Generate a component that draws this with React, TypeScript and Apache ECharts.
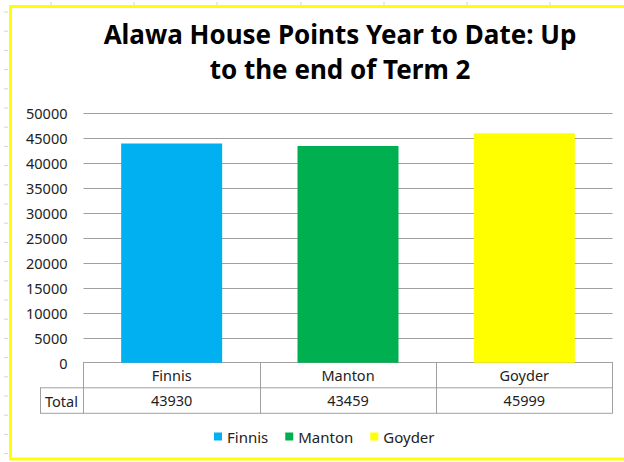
import React, { useEffect, useRef } from "react";
import * as echarts from "echarts";

const categories = ["Finnis", "Manton", "Goyder"];
const totals = [43930, 43459, 45999];
const barColors = ["#00b0f0", "#00b050", "#ffff00"];
const yTicks = { min: 0, max: 50000, interval: 5000 };
const rowLabel = "Total";
const titleLines = ["Alawa House Points Year to Date: Up", "to the end of Term 2"];

const FONT = "'Noto Sans', sans-serif";
const LINE = "#a0a0a0";

export default function App() {
  const ref = useRef<HTMLDivElement>(null);
  useEffect(() => {
    if (!ref.current) return;
    const chart = echarts.init(ref.current, null, { renderer: "svg" });
    const series = categories.map((name, i) => ({
      name,
      type: "bar",
      stack: "total",
      barWidth: 101,
      itemStyle: { color: barColors[i] },
      data: categories.map((_, j) => (j === i ? totals[i] : null)),
    }));
    const leftMarks = [];
    for (let k = 0; k < 24; k++) {
      const y = 12 + k * 19.2;
      leftMarks.push({ type: "line", shape: { x1: 4, y1: y, x2: 8, y2: y }, style: { stroke: "#d4d4d4", lineWidth: 1 } });
    }
    const topMarks = [51, 134, 217, 301, 384, 467, 550].map((x) => ({
      type: "line",
      shape: { x1: x, y1: 2, x2: x, y2: 5 },
      style: { stroke: "#d4d4d4", lineWidth: 1 },
    }));
    const titleEls = titleLines.map((t, i) => ({
      type: "text",
      x: 340,
      y: 34 + i * 35,
      style: {
        text: t,
        fontFamily: FONT,
        fontWeight: "bold",
        fontSize: 26,
        fill: "#000",
        align: "center",
        verticalAlign: "middle",
      },
    }));
    chart.setOption({
      animation: false,
      backgroundColor: "#ffffff",
      textStyle: { fontFamily: FONT },
      legend: {
        data: categories,
        left: 214,
        top: 429,
        padding: 0,
        itemWidth: 8,
        itemHeight: 8,
        itemGap: 17,
        icon: "rect",
        textStyle: { fontFamily: FONT, fontSize: 15, color: "#222" },
      },
      grid: { left: 83.5, right: 11.5, top: 113.3, bottom: 99.3 },
      xAxis: [
        {
          type: "category",
          data: categories,
          position: "bottom",
          axisLine: { show: true, lineStyle: { color: LINE, width: 1 } },
          axisTick: { show: true, length: 50.6, interval: 0, lineStyle: { color: LINE, width: 1 } },
          axisLabel: { margin: 0, lineHeight: 25, fontSize: 14.5, color: "#222", fontFamily: FONT, interval: 0 },
        },
        {
          type: "category",
          data: categories,
          position: "bottom",
          offset: 25,
          axisLine: { show: false },
          axisTick: { show: false },
          axisLabel: {
            margin: 0,
            lineHeight: 25,
            fontSize: 14.5,
            color: "#222",
            fontFamily: FONT,
            interval: 0,
            formatter: (_: string, idx: number) => String(totals[idx]),
          },
        },
      ],
      yAxis: {
        type: "value",
        min: yTicks.min,
        max: yTicks.max,
        interval: yTicks.interval,
        axisLine: { show: false },
        axisTick: { show: false },
        axisLabel: {
          margin: 16,
          fontSize: 14.5,
          color: "#222",
          fontFamily: FONT,
          formatter: (v: number) => String(v),
        },
        splitLine: { lineStyle: { color: LINE, width: 1 } },
      },
      series,
      graphic: [
        {
          type: "rect",
          shape: { x: 10.5, y: 6.5, width: 620, height: 452.5 },
          style: { fill: "none", stroke: "#ffff00", lineWidth: 3 },
          silent: true,
        },
        ...leftMarks,
        ...topMarks,
        ...titleEls,
        { type: "line", shape: { x1: 40, y1: 387.8, x2: 612.5, y2: 387.8 }, style: { stroke: LINE, lineWidth: 1 } },
        { type: "line", shape: { x1: 40, y1: 413.3, x2: 612.5, y2: 413.3 }, style: { stroke: LINE, lineWidth: 1 } },
        { type: "line", shape: { x1: 40.5, y1: 387.8, x2: 40.5, y2: 413.3 }, style: { stroke: LINE, lineWidth: 1 } },
        {
          type: "text",
          x: 61.5,
          y: 400.5,
          style: { text: rowLabel, fontFamily: FONT, fontSize: 14.5, fill: "#222", align: "center", verticalAlign: "middle" },
        },
      ],
    });
    return () => chart.dispose();
  }, []);
  return (
    <div
      ref={ref}
      style={{ position: "fixed", left: 0, top: 0, width: 624, height: 462, background: "#fff" }}
    />
  );
}
